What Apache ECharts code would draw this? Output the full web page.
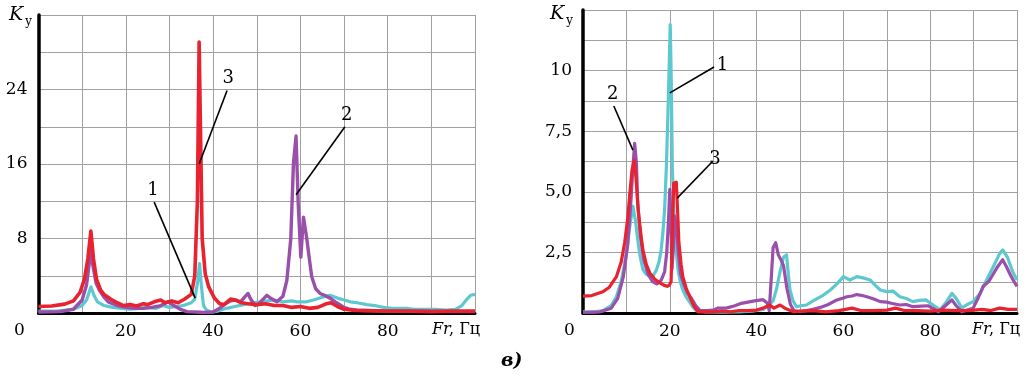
<!DOCTYPE html>
<html>
<head>
<meta charset="utf-8">
<script src="https://cdn.jsdelivr.net/npm/echarts@6/dist/echarts.min.js"></script>
<style>
html, body {margin: 0; padding: 0; background: #fff;}
#chart {width: 1033px; height: 378px;}
</style>
</head>
<body>
<div id="chart"></div>
<script>
// tick labels
var xTicks = [20, 40, 60, 80];
var leftYTicks = [8, 16, 24];
var rightYTicks = [2.5, 5, 7.5, 10];

// left panel: [Fr, Ky]
var leftCurve1 = [[0,0.2],[4,0.2],[8,0.4],[10,0.8],[11,1.4],[12,2.8],[12.8,1.8],[13.5,1.2],[15,0.8],[17,0.6],[19,0.5],[21,0.4],[23,0.5],[25,0.6],[27,0.5],[28.5,0.8],[30,0.6],[32,0.7],[33.5,0.85],[35,1.1],[35.8,1.5],[36.5,3.5],[36.9,5.3],[37.3,3],[37.8,0.8],[38.5,0.3],[39.6,0.1],[41,0.2],[43,0.5],[45,0.7],[47,0.9],[49,1.1],[51,1.2],[53.8,1.4],[56,1.2],[58,1.3],[59.2,1.2],[61.4,1.2],[63,1.4],[65,1.7],[66.8,1.9],[68.5,1.6],[70,1.4],[71.4,1.2],[73,1.1],[75.2,0.9],[77,0.8],[79,0.6],[81,0.5],[84.4,0.5],[86,0.4],[88.9,0.4],[91,0.4],[93.5,0.3],[95.5,0.4],[97,0.8],[98,1.4],[99,1.9],[100,2.0]];
var leftCurve2 = [[0,0.1],[5,0.15],[8,0.4],[10,1.4],[11,3.0],[11.6,5.2],[12,6.7],[12.5,5.0],[13.2,3.2],[14,2.4],[15,1.7],[16,1.2],[18,0.8],[20,0.6],[22,0.5],[24,0.5],[26,0.6],[28,0.8],[29.7,1.2],[31,0.8],[32.5,0.4],[34,0.15],[36,0.1],[38,0.05],[40,0.1],[41.5,0.5],[42.5,0.9],[44,1.3],[45,1.4],[46.3,1.2],[47.2,1.7],[48,2.1],[48.6,1.5],[49.6,0.8],[50.5,1.0],[52.3,1.9],[53.5,1.5],[54.6,1.2],[56,1.8],[56.9,3.5],[57.8,8],[58.4,16],[59,19.0],[59.5,11.7],[60.1,6.0],[60.7,10.3],[61.4,8.2],[62,6],[62.6,3.9],[63.5,2.6],[64.5,2.1],[65.5,1.9],[66.8,1.6],[68,1.2],[69,0.9],[70,0.6],[71.4,0.4],[73,0.3],[76,0.25],[80,0.2],[85,0.2],[90,0.2],[95,0.15],[100,0.15]];
var leftCurve3 = [[0,0.7],[3,0.75],[6,0.95],[8,1.3],[9.5,2.2],[10.5,3.6],[11.3,5.8],[12,8.8],[12.6,5.8],[13.3,3.6],[14.2,2.5],[15,2.0],[16.5,1.5],[18,1.1],[19.5,0.8],[21,0.9],[22.5,0.75],[24,1.0],[25,0.9],[26.5,1.2],[28,1.4],[29,1.1],[30.5,1.3],[32,1.1],[33.5,1.5],[35,2.0],[35.8,4.0],[36.4,12],[36.8,29.1],[37.1,20],[37.5,8],[38.2,4.2],[39,2.8],[40.3,1.6],[41.5,1.0],[42.5,0.9],[44,1.5],[45,1.4],[46.5,1.1],[48,1.0],[50,0.9],[52,1.0],[54,0.8],[56,0.8],[58,0.6],[60,0.7],[62,0.5],[64,0.6],[66,1.0],[67,1.1],[68.5,0.7],[70,0.4],[72,0.3],[75,0.25],[80,0.2],[85,0.2],[90,0.15],[95,0.2],[100,0.2]];

// right panel: [Fr, Ky]
var rightCurve1 = [[0,0.05],[3,0.06],[4.6,0.1],[6.5,0.3],[7.7,0.67],[8.8,1.3],[9.6,2.05],[10.3,2.9],[10.8,3.6],[11.5,4.4],[12.1,3.8],[12.7,2.9],[13.2,2.3],[13.8,1.8],[14.6,1.6],[15.4,1.5],[16.2,1.55],[16.9,1.77],[17.5,2.1],[18,2.6],[18.4,3.3],[18.8,4.25],[19.2,6],[19.6,8.4],[19.9,10.5],[20.1,11.9],[20.3,10],[20.6,5.9],[21.1,3.6],[21.5,2.5],[21.9,1.8],[22.4,1.3],[23,0.95],[23.8,0.65],[24.6,0.45],[25.3,0.25],[26.1,0.1],[28,0.05],[32,0.04],[36,0.05],[39,0.08],[41.5,0.15],[42.7,0.3],[43.8,0.5],[44.6,1.0],[45.4,1.7],[46.2,2.3],[46.9,2.4],[47.3,1.6],[47.7,0.95],[48.4,0.5],[49.2,0.26],[50.2,0.3],[51.5,0.33],[53,0.5],[55.4,0.74],[57,0.95],[58.5,1.2],[60,1.5],[61.5,1.36],[63.1,1.5],[64.5,1.45],[66.2,1.36],[67.3,1.15],[68.5,0.95],[70,0.88],[71.5,0.9],[73,0.67],[74.5,0.6],[76,0.47],[77.5,0.52],[79,0.54],[80.5,0.35],[82.3,0.12],[83.5,0.4],[85,0.81],[86,0.6],[87.3,0.2],[88.5,0.35],[89.9,0.47],[91.5,0.8],[93,1.36],[94.5,1.9],[96,2.45],[96.7,2.6],[97.8,2.3],[99,1.7],[100,1.36]];
var rightCurve2 = [[0,0.02],[4,0.05],[6.5,0.2],[8,0.6],[9.3,1.5],[10.3,2.8],[11,4.5],[11.5,6],[11.9,7.0],[12.3,6.2],[12.6,4.6],[13.2,3.2],[14,2.2],[15,1.6],[16,1.3],[17,1.2],[18,1.35],[18.8,1.7],[19.3,2.5],[19.7,3.8],[20.0,5.1],[20.2,4.2],[20.5,1.8],[20.8,2.6],[21.1,4.0],[21.5,3.6],[21.9,2.6],[22.5,1.6],[23.2,1.2],[24,0.85],[25,0.6],[26,0.3],[27,0.1],[28.5,0.1],[30,0.12],[31,0.2],[33,0.2],[35,0.3],[36.5,0.4],[38,0.45],[39.5,0.5],[41.5,0.55],[42.5,0.4],[42.9,0.1],[43.3,1.2],[43.8,2.7],[44.4,2.9],[45,2.4],[45.6,2.2],[46.2,1.95],[47,1.0],[47.8,0.35],[48.6,0.1],[50,0.05],[51.5,0.1],[53,0.15],[55,0.25],[56.5,0.35],[58.5,0.54],[60,0.62],[60.8,0.67],[62,0.7],[63.1,0.76],[64.3,0.72],[65.4,0.67],[67,0.58],[68.5,0.47],[70,0.45],[71,0.4],[73,0.33],[74.5,0.35],[76,0.26],[78,0.28],[79.5,0.3],[81,0.15],[81.9,0.05],[83.5,0.3],[85,0.54],[86,0.3],[87.3,0.05],[88.5,0.12],[89.9,0.2],[91,0.6],[92.2,1.1],[93.5,1.3],[94.5,1.6],[95.5,1.9],[96.7,2.2],[97.6,1.9],[98.4,1.6],[99.3,1.3],[100,1.1]];
var rightCurve3 = [[0,0.7],[2,0.72],[4.6,0.88],[6,1.05],[7.7,1.5],[8.8,2.1],[9.6,2.9],[10.3,3.9],[10.8,4.95],[11.3,5.9],[11.8,6.3],[12.2,5.6],[12.7,4.25],[13.3,3.3],[13.8,2.6],[14.6,2.0],[15.4,1.65],[16.5,1.4],[17.7,1.24],[18.6,1.15],[19.4,1.1],[19.9,1.15],[20.3,1.3],[20.6,3.5],[20.9,5.35],[21.5,5.4],[21.8,4.2],[22.1,2.9],[22.6,2.0],[23,1.5],[23.8,1.0],[24.6,0.67],[25.5,0.3],[26.5,0.05],[28,0.05],[30,0.05],[32,0.08],[34,0.05],[36,0.1],[38,0.1],[40,0.12],[41.5,0.2],[43,0.33],[44,0.2],[45.4,0.33],[46.5,0.2],[48.5,0.05],[50,0.08],[53,0.1],[56,0.05],[59,0.1],[62,0.2],[64,0.1],[67,0.1],[70,0.12],[72,0.2],[74,0.1],[77,0.1],[80,0.08],[83,0.12],[86,0.1],[89,0.1],[92,0.15],[94,0.1],[96,0.2],[98,0.15],[100,0.15]];

// callouts: label, from [Fr, Ky], to [Fr, Ky]
var leftNotes = [['3', [43.2, 23.9], [36.8, 16.0]], ['2', [70.2, 20.0], [59.0, 12.7]], ['1', [26.5, 11.9], [35.9, 1.6]]];
var rightNotes = [['1', [30.2, 10.15], [20.0, 9.08]], ['2', [7.1, 8.54], [11.5, 6.72]], ['3', [29.95, 6.27], [21.7, 4.74]]];

var colors = ['#5ec8d0', '#9a4fab', '#e8222e'];
var FONT = 'DejaVu Serif';

var chart = echarts.init(document.getElementById('chart'));

function xAxis(idx) {
    return {
        gridIndex: idx, type: 'value', min: 0, max: 100, interval: 10,
        axisLine: {show: true, onZero: false, lineStyle: {color: '#000', width: 3}},
        axisTick: {show: false},
        splitLine: {show: true, lineStyle: {color: '#a0a0a0', width: 1}},
        axisLabel: {
            color: '#000', fontFamily: FONT, fontSize: 17, margin: 10,
            formatter: function(v) { return xTicks.indexOf(v) >= 0 ? String(v) : ''; }
        }
    };
}
function yAxis(idx, max, interval, ticks, fmt) {
    return {
        gridIndex: idx, type: 'value', min: 0, max: max, interval: interval,
        axisLine: {show: true, lineStyle: {color: '#000', width: 3.5}},
        axisTick: {show: false},
        splitLine: {show: true, lineStyle: {color: '#a0a0a0', width: 1}},
        axisLabel: {
            color: '#000', fontFamily: FONT, fontSize: 17, margin: 11,
            formatter: function(v) {
                for (var i = 0; i < ticks.length; i++) if (Math.abs(ticks[i] - v) < 1e-6) return fmt(v);
                return '';
            }
        }
    };
}
function notes(list) {
    return {
        silent: true, symbol: 'none', animation: false,
        lineStyle: {color: '#000', width: 1.6, type: 'solid'},
        label: {show: true, position: 'start', formatter: '{b}', color: '#000', fontFamily: FONT, fontSize: 18, distance: 3},
        data: list.map(function(n) { return [{name: n[0], coord: n[1]}, {coord: n[2]}]; })
    };
}
function curve(idx, data, color, width, mark) {
    var s = {
        type: 'line', xAxisIndex: idx, yAxisIndex: idx, data: data,
        symbol: 'none', smooth: false, animation: false,
        lineStyle: {color: color, width: width, join: 'round'}
    };
    if (mark) s.markLine = mark;
    return s;
}

var comma = function(v) { return v === 10 ? '10' : v.toFixed(1).replace('.', ','); };

chart.setOption({
    backgroundColor: '#fff',
    grid: [
        {left: 38.5, right: 558, top: 15, bottom: 65},
        {left: 583, right: 16, top: 10, bottom: 65}
    ],
    xAxis: [xAxis(0), xAxis(1)],
    yAxis: [
        yAxis(0, 32, 4, leftYTicks, function(v) { return String(v); }),
        yAxis(1, 12.5, 1.25, rightYTicks, comma)
    ],
    series: [
        curve(0, leftCurve1, colors[0], 3.2),
        curve(0, leftCurve2, colors[1], 3.4),
        curve(0, leftCurve3, colors[2], 3.6, notes(leftNotes)),
        curve(1, rightCurve1, colors[0], 3.2),
        curve(1, rightCurve2, colors[1], 3.2),
        curve(1, rightCurve3, colors[2], 3.2, notes(rightNotes))
    ],
    graphic: [
        {type: 'text', left: 14, top: 322, style: {text: '0', font: '17px "DejaVu Serif"', fill: '#000'}},
        {type: 'text', left: 564, top: 322, style: {text: '0', font: '17px "DejaVu Serif"', fill: '#000'}},
        {type: 'text', left: 432, top: 322, style: {text: 'Fr', font: 'italic 16px "DejaVu Serif"', fill: '#000'}},
        {type: 'text', left: 449, top: 322, style: {text: ', Гц', font: '16px "DejaVu Serif"', fill: '#000'}},
        {type: 'text', left: 972, top: 322, style: {text: 'Fr', font: 'italic 16px "DejaVu Serif"', fill: '#000'}},
        {type: 'text', left: 989, top: 322, style: {text: ', Гц', font: '16px "DejaVu Serif"', fill: '#000'}},
        {type: 'text', left: 9, top: 6, style: {text: 'K', font: 'italic 19px "DejaVu Serif"', fill: '#000'}},
        {type: 'text', left: 25, top: 16, style: {text: 'у', font: '12px "DejaVu Serif"', fill: '#000'}},
        {type: 'text', left: 550, top: 5, style: {text: 'K', font: 'italic 19px "DejaVu Serif"', fill: '#000'}},
        {type: 'text', left: 566, top: 15, style: {text: 'у', font: '12px "DejaVu Serif"', fill: '#000'}},
        {type: 'text', left: 501, top: 352, style: {text: 'в)', font: 'italic bold 19px "DejaVu Serif"', fill: '#000'}}
    ]
});
</script>
</body>
</html>
